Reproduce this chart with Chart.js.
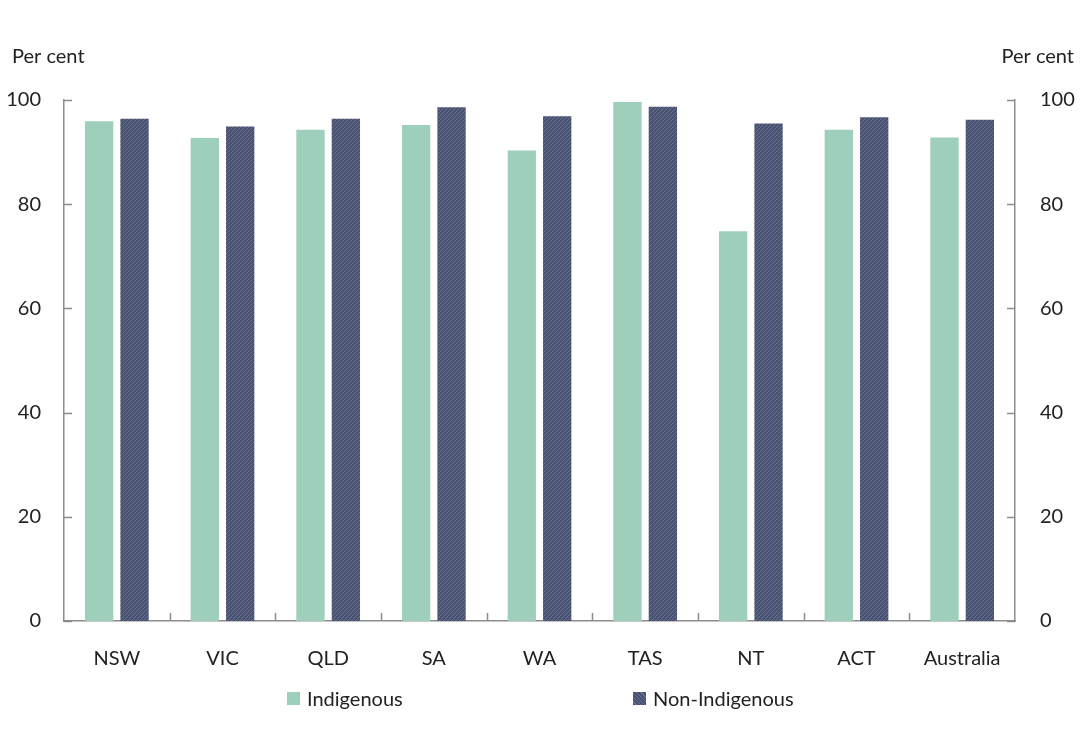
<!DOCTYPE html>
<html>
<head>
<meta charset="utf-8">
<script src="https://cdn.jsdelivr.net/npm/chart.js@4/dist/chart.umd.min.js"></script>
<style>
    body { margin: 0; background: #fff; }
    #wrap { position: relative; width: 1080px; height: 750px; }
    #legend { position: absolute; top: 686px; left: 0; width: 1080px; font-family: Lato, sans-serif; font-size: 20px; color: #222; }
    .item { position: absolute; display: flex; align-items: center; }
    .box { width: 13px; height: 13px; margin-right: 7px; }
    .indig { background: #9ecfbb; }
    .nonindig { background: repeating-linear-gradient(45deg, #4a5272 0px, #4a5272 2px, #6a7290 2px, #6a7290 3px); }
</style>
</head>
<body>
<div id="wrap">
    <canvas id="chart" width="1080" height="750"></canvas>
    <div id="legend">
        <div class="item" style="left:287px"><span class="box indig"></span>Indigenous</div>
        <div class="item" style="left:633px"><span class="box nonindig"></span>Non-Indigenous</div>
    </div>
</div>
<script>
const categories = ['NSW', 'VIC', 'QLD', 'SA', 'WA', 'TAS', 'NT', 'ACT', 'Australia'];
const indigenous = [95.9, 92.7, 94.3, 95.2, 90.3, 99.6, 74.8, 94.3, 92.8];
const nonIndigenous = [96.4, 94.9, 96.4, 98.6, 96.9, 98.7, 95.5, 96.7, 96.2];
const yTicks = [0, 20, 40, 60, 80, 100];

var StateChart = {
    axisColor: '#8c8c8c',
    font: { family: 'Lato, sans-serif', size: 20 },

    init: function () {
        StateChart.draw();
    },
    hatch: function () {
        // small tile with diagonal stripes for the dark series
        let tile = document.createElement('canvas');
        tile.width = 4;
        tile.height = 4;
        let c = tile.getContext('2d');
        c.fillStyle = '#4a5272';
        c.fillRect(0, 0, 4, 4);
        c.strokeStyle = '#69718f';
        c.lineWidth = 1;
        c.beginPath();
        c.moveTo(0, 4);
        c.lineTo(4, 0);
        c.moveTo(-1, 1);
        c.lineTo(1, -1);
        c.moveTo(3, 5);
        c.lineTo(5, 3);
        c.stroke();
        return c.createPattern(tile, 'repeat');
    },
    // inward tick marks and the "Per cent" headings
    decorations: {
        id: 'decorations',
        afterDraw: function (chart) {
            let ctx = chart.ctx;
            let area = chart.chartArea;
            let y = chart.scales.y;
            let x = chart.scales.x;
            ctx.save();
            ctx.strokeStyle = StateChart.axisColor;
            ctx.lineWidth = 1.5;
            ctx.beginPath();
            yTicks.forEach(function (v) {
                let py = Math.round(y.getPixelForValue(v)) + 0.5;
                ctx.moveTo(area.left, py);
                ctx.lineTo(area.left + 8, py);
                ctx.moveTo(area.right, py);
                ctx.lineTo(area.right - 8, py);
            });
            for (let i = 0; i < categories.length - 1; i++) {
                let px = Math.round((x.getPixelForValue(i) + x.getPixelForValue(i + 1)) / 2) + 0.5;
                ctx.moveTo(px, area.bottom);
                ctx.lineTo(px, area.bottom - 8);
            }
            ctx.stroke();

            ctx.fillStyle = '#222';
            ctx.font = StateChart.font.size + 'px ' + StateChart.font.family;
            ctx.textBaseline = 'middle';
            ctx.textAlign = 'left';
            ctx.fillText('Per cent', 12, 57);
            ctx.textAlign = 'right';
            ctx.fillText('Per cent', chart.width - 6, 57);
            ctx.restore();
        }
    },
    draw: function () {
        let canvas = document.getElementById('chart');
        let ctx = canvas.getContext('2d');

        let chartData = {
            labels: categories,
            datasets: [{
                label: 'Indigenous',
                data: indigenous,
                backgroundColor: '#9ecfbb',
                yAxisID: 'y'
            }, {
                label: 'Non-Indigenous',
                data: nonIndigenous,
                backgroundColor: StateChart.hatch(),
                yAxisID: 'y'
            }]
        };

        let valueAxis = function (pos, width, pad) {
            return {
                position: pos,
                min: 0,
                max: 100,
                afterBuildTicks: function (scale) {
                    scale.ticks = yTicks.map(function (v) { return { value: v }; });
                },
                afterFit: function (scale) {
                    scale.width = width;
                },
                grid: { display: false },
                border: { display: true, color: StateChart.axisColor, width: 1.5 },
                ticks: { padding: pad, color: '#222', font: StateChart.font }
            };
        };

        let chartOptions = {
            responsive: false,
            devicePixelRatio: 1,
            animation: false,
            layout: { padding: { top: 100, left: 0, right: 0, bottom: 0 } },
            datasets: {
                bar: { categoryPercentage: 0.67, barPercentage: 0.8 }
            },
            plugins: {
                legend: { display: false },
                tooltip: { enabled: false }
            },
            scales: {
                x: {
                    grid: { display: false },
                    border: { display: true, color: StateChart.axisColor, width: 1.5 },
                    afterFit: function (scale) {
                        scale.height = 129;
                    },
                    ticks: { padding: 18, color: '#222', font: StateChart.font, maxRotation: 0 }
                },
                y: valueAxis('left', 64, 15),
                y2: valueAxis('right', 65, 17)
            }
        };

        new Chart(ctx, {
            type: 'bar',
            data: chartData,
            options: chartOptions,
            plugins: [StateChart.decorations]
        });
    }
};

document.addEventListener('DOMContentLoaded', function () {
    StateChart.init();
});
</script>
</body>
</html>
